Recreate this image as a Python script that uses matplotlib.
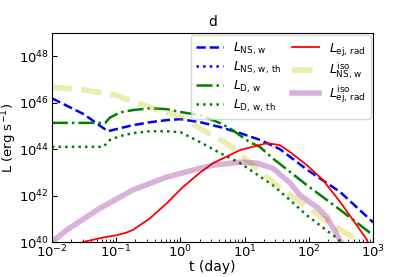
import matplotlib
matplotlib.use("Agg")
import matplotlib.pyplot as plt
import numpy as np

# log10 of time (day) and log10 of luminosity (erg/s)
lt_ns_w = [-2.0, -1.5, -1.13, -0.94, -0.74, -0.47, -0.21, 0.0, 0.31, 0.62, 0.93, 1.24, 1.55, 1.97, 2.49, 3.0]
ll_ns_w = [46.19, 45.5, 44.77, 44.9, 45.03, 45.16, 45.25, 45.29, 45.16, 44.95, 44.69, 44.4, 44.0, 43.12, 42.15, 40.85]

lt_d_w = [-2.0, -1.17, -1.1, -0.94, -0.74, -0.47, -0.21, 0.0, 0.31, 0.62, 0.77, 1.08, 1.24, 1.44, 1.97, 2.49, 3.0]
ll_d_w = [45.13, 45.13, 45.35, 45.58, 45.68, 45.76, 45.72, 45.6, 45.46, 45.12, 44.9, 44.3, 44.09, 43.6, 42.45, 41.38, 40.3]

lt_d_w_th = [-2.0, -1.2, -1.1, -0.94, -0.74, -0.47, -0.21, 0.0, 0.31, 0.62, 0.93, 1.44, 1.71, 1.97, 2.33, 2.44, 2.5]
ll_d_w_th = [44.1, 44.1, 44.39, 44.56, 44.69, 44.77, 44.77, 44.73, 44.3, 43.83, 43.4, 42.45, 41.8, 41.15, 40.39, 40.17, 40.0]

lt_ej = [-1.52, -1.25, -0.99, -0.85, -0.74, -0.47, -0.21, 0.04, 0.31, 0.51, 0.93, 1.35, 1.55, 1.71, 1.97, 2.22, 2.49, 2.88, 2.92]
ll_ej = [40.0, 40.17, 40.3, 40.4, 40.52, 41.03, 41.68, 42.37, 43.0, 43.4, 43.96, 44.26, 44.17, 43.87, 43.31, 42.67, 41.72, 40.2, 40.0]

lt_iso_ns = [-2.0, -1.5, -1.0, -0.47, -0.05, 0.41, 0.72, 0.88, 1.44, 1.82, 2.33, 2.75, 2.8]
ll_iso_ns = [46.67, 46.55, 46.32, 45.8, 45.46, 44.73, 44.26, 43.9, 42.58, 41.8, 40.8, 40.1, 40.0]

lt_iso_ej = [-2.0, -1.77, -1.25, -0.74, -0.21, 0.31, 0.51, 0.93, 1.19, 1.44, 1.71, 1.86, 1.97, 2.13, 2.28, 2.44, 2.5]
ll_iso_ej = [40.0, 40.52, 41.46, 42.24, 42.8, 43.18, 43.31, 43.44, 43.4, 43.18, 42.54, 42.02, 41.8, 41.5, 41.08, 40.3, 40.0]


def p(a):
    return 10 ** np.array(a)


fig = plt.figure(figsize=(4.15, 2.77), dpi=100)
ax = fig.add_axes([0.125, 0.126, 0.774, 0.755])

ax.plot(p(lt_ns_w), p(ll_ns_w), color='b', ls='--', lw=1.8, label=r'$L_{\rm NS,\,w}$')
ax.plot([], [], color='b', ls=':', lw=1.8, label=r'$L_{\rm NS,\,w,\,th}$')
ax.plot(p(lt_d_w), p(ll_d_w), color='g', ls='-.', lw=1.8, label=r'$L_{\rm D,\,w}$')
ax.plot(p(lt_d_w_th), p(ll_d_w_th), color='g', ls=':', lw=1.8, label=r'$L_{\rm D,\,w,\,th}$')
ax.plot(p(lt_ej), p(ll_ej), color='r', ls='-', lw=1.3, label=r'$L_{\rm ej,\,rad}$')
ax.plot(p(lt_iso_ns), p(ll_iso_ns), color='y', alpha=0.3, ls='--', lw=4, label=r'$L_{\rm NS,\,w}^{\rm iso}$')
ax.plot(p(lt_iso_ej), p(ll_iso_ej), color='purple', alpha=0.3, ls='-', lw=4, label=r'$L_{\rm ej,\,rad}^{\rm iso}$')

ax.set_xscale('log')
ax.set_yscale('log')
ax.set_xlim(1e-2, 1e3)
ax.set_ylim(1e40, 1e49)
ax.set_yticks([1e40, 1e42, 1e44, 1e46, 1e48])
ax.yaxis.set_minor_locator(matplotlib.ticker.NullLocator())
ax.tick_params(which='both', direction='in', labelsize=9.5)
ax.tick_params(axis='x', pad=1)
ax.tick_params(axis='y', pad=2)
ax.set_xlabel('t (day)', fontsize=10, labelpad=0)
ax.set_ylabel(r'L (erg s$^{-1}$)', fontsize=9.5, labelpad=0)
ax.set_title('d', fontsize=10, pad=5)
ax.legend(ncol=2, loc='upper right', fontsize=9, handlelength=2.2,
          columnspacing=0.8, labelspacing=0.2, borderaxespad=0.2)

fig.savefig('out.png', dpi=100)
